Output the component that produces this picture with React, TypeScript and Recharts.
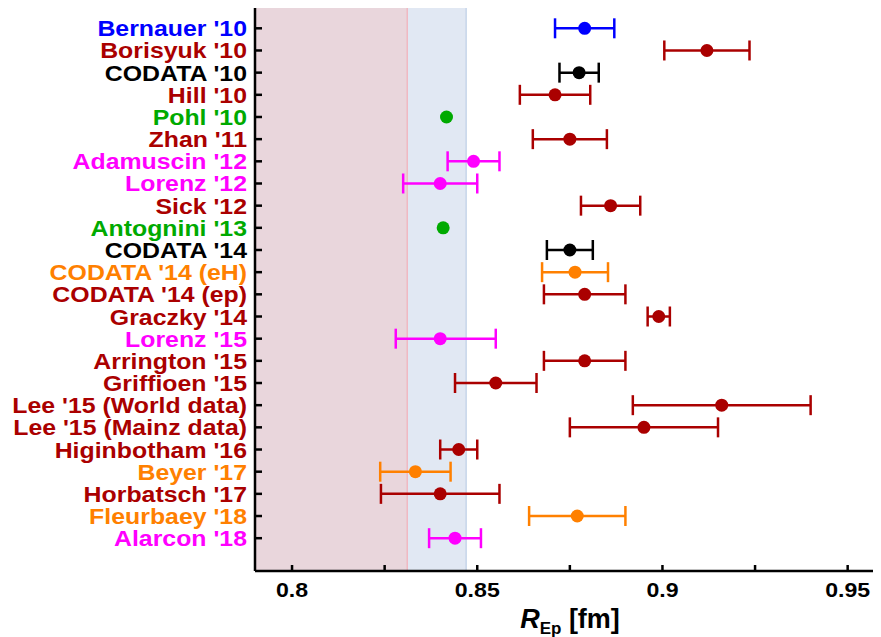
import React from 'react';
import {
  ScatterChart,
  Scatter,
  XAxis,
  YAxis,
  ErrorBar,
  ReferenceArea,
  ReferenceLine,
} from 'recharts';

// measurements, top to bottom
const NAMES = [
  "Bernauer '10",
  "Borisyuk '10",
  "CODATA '10",
  "Hill '10",
  "Pohl '10",
  "Zhan '11",
  "Adamuscin '12",
  "Lorenz '12",
  "Sick '12",
  "Antognini '13",
  "CODATA '14",
  "CODATA '14 (eH)",
  "CODATA '14 (ep)",
  "Graczky '14",
  "Lorenz '15",
  "Arrington '15",
  "Griffioen '15",
  "Lee '15 (World data)",
  "Lee '15 (Mainz data)",
  "Higinbotham '16",
  "Beyer '17",
  "Horbatsch '17",
  "Fleurbaey '18",
  "Alarcon '18",
];

const RADIUS = [
  0.879, 0.912, 0.8775, 0.871, 0.8417, 0.875, 0.849, 0.84, 0.886, 0.8408, 0.875, 0.8764,
  0.879, 0.899, 0.84, 0.879, 0.855, 0.916, 0.895, 0.845, 0.8333, 0.84, 0.877, 0.844,
];

const ERR_LOW = [
  0.008, 0.0115, 0.0053, 0.0095, 0, 0.01, 0.007, 0.01, 0.008, 0, 0.0062, 0.0089,
  0.011, 0.003, 0.012, 0.011, 0.011, 0.024, 0.02, 0.005, 0.0095, 0.016, 0.013, 0.007,
];

const ERR_HIGH = [
  0.008, 0.0115, 0.0053, 0.0095, 0, 0.01, 0.007, 0.01, 0.008, 0, 0.0062, 0.0089,
  0.011, 0.003, 0.015, 0.011, 0.011, 0.024, 0.02, 0.005, 0.0095, 0.016, 0.013, 0.007,
];

const METHOD = [
  'mainz', 'fit', 'codata', 'fit', 'muH', 'fit', 'dispersive', 'dispersive', 'fit', 'muH',
  'codata', 'hydrogen', 'fit', 'fit', 'dispersive', 'fit', 'fit', 'fit', 'fit', 'fit',
  'hydrogen', 'fit', 'hydrogen', 'dispersive',
];

const X_TICKS = [0.8, 0.825, 0.85, 0.875, 0.9, 0.925, 0.95];
const X_LABELED = [0.8, 0.85, 0.9, 0.95];

// shaded bands
const PINK_BAND = [0.79, 0.8311];
const BLUE_BAND = [0.8311, 0.847];

const METHOD_COLOR: Record<string, string> = {
  mainz: '#0000ff',
  fit: '#aa0000',
  codata: '#000000',
  muH: '#00aa00',
  dispersive: '#ff00ff',
  hydrogen: '#ff8000',
};

const FONT = '"Liberation Sans", Arial, sans-serif';

const rows = NAMES.map((name, i) => ({
  name,
  row: i,
  r: RADIUS[i],
  err: [ERR_LOW[i], ERR_HIGH[i]],
  method: METHOD[i],
}));

const METHODS = Array.from(new Set(METHOD));
const hasErr = (d: any) => d.err[0] > 0 || d.err[1] > 0;

const YTick = (props: any) => {
  const { x, y, payload } = props;
  const i = payload.value;
  return (
    <g>
      <line x1={x} y1={y} x2={x + 7} y2={y} stroke="#000" strokeWidth={2.5} />
      <text
        transform={`translate(${x - 8},${y + 8}) scale(1.13,1)`}
        textAnchor="end"
        fontFamily={FONT}
        fontWeight="bold"
        fontSize={22}
        fill={METHOD_COLOR[METHOD[i]]}
      >
        {NAMES[i]}
      </text>
    </g>
  );
};

const XTick = (props: any) => {
  const { x, y, payload } = props;
  const v = payload.value;
  const labeled = X_LABELED.some((t) => Math.abs(t - v) < 1e-9);
  return (
    <g>
      <line x1={x} y1={y} x2={x} y2={y - 6} stroke="#000" strokeWidth={2.5} />
      {labeled && (
        <text
          transform={`translate(${x},${y + 26}) scale(1.1,1)`}
          textAnchor="middle"
          fontFamily={FONT}
          fontWeight="bold"
          fontSize={21}
          fill="#000"
        >
          {String(v)}
        </text>
      )}
    </g>
  );
};

const AxisTitle = (props: any) => {
  const vb = props.viewBox || {};
  const cx = vb.x + vb.width / 2 + 2;
  return (
    <text x={cx} y={620} textAnchor="middle" fontFamily={FONT} fontWeight="bold" fontSize={27} fill="#000">
      <tspan fontStyle="italic">R</tspan>
      <tspan fontSize={17} dy={6}>Ep</tspan>
      <tspan dy={-6}> [fm]</tspan>
    </text>
  );
};

const dot = (color: string) => (p: any) => <circle cx={p.cx} cy={p.cy} r={6.5} fill={color} />;

export default function App() {
  return (
    <div style={{ width: 873, height: 629, background: '#fff' }}>
      <ScatterChart width={873} height={629} margin={{ top: 0, right: 0, bottom: 0, left: 0 }}>
        <ReferenceArea x1={PINK_BAND[0]} x2={PINK_BAND[1]} fill="#e9d6dc" fillOpacity={1} stroke="none" />
        <ReferenceArea x1={BLUE_BAND[0]} x2={BLUE_BAND[1]} fill="#e1e8f3" fillOpacity={1} stroke="none" />
        <ReferenceLine x={PINK_BAND[1]} stroke="#f0b9c2" strokeWidth={1.5} />
        <ReferenceLine x={BLUE_BAND[1]} stroke="#c6d5ea" strokeWidth={1.5} />
        <XAxis
          type="number"
          dataKey="r"
          domain={[0.79, 0.959]}
          allowDataOverflow
          ticks={X_TICKS}
          interval={0}
          tickLine={false}
          tickSize={0}
          tickMargin={0}
          tick={<XTick />}
          height={66}
          axisLine={{ stroke: '#000', strokeWidth: 2.5 }}
          label={<AxisTitle />}
        />
        <YAxis
          type="number"
          dataKey="row"
          domain={[-0.916, 24.48]}
          reversed
          allowDataOverflow
          ticks={NAMES.map((_, i) => i)}
          interval={0}
          tickLine={false}
          tickSize={0}
          tickMargin={0}
          tick={<YTick />}
          width={247}
          axisLine={{ stroke: '#000', strokeWidth: 2.5 }}
        />
        {METHODS.map((m) => (
          <Scatter
            key={m}
            data={rows.filter((d) => d.method === m && hasErr(d))}
            isAnimationActive={false}
            shape={dot(METHOD_COLOR[m])}
          >
            <ErrorBar
              dataKey="err"
              direction="x"
              width={10}
              stroke={METHOD_COLOR[m]}
              strokeWidth={2.5}
              isAnimationActive={false}
            />
          </Scatter>
        ))}
        {METHODS.map((m) => (
          <Scatter
            key={`${m}-point`}
            data={rows.filter((d) => d.method === m && !hasErr(d))}
            isAnimationActive={false}
            shape={dot(METHOD_COLOR[m])}
          />
        ))}
      </ScatterChart>
    </div>
  );
}
